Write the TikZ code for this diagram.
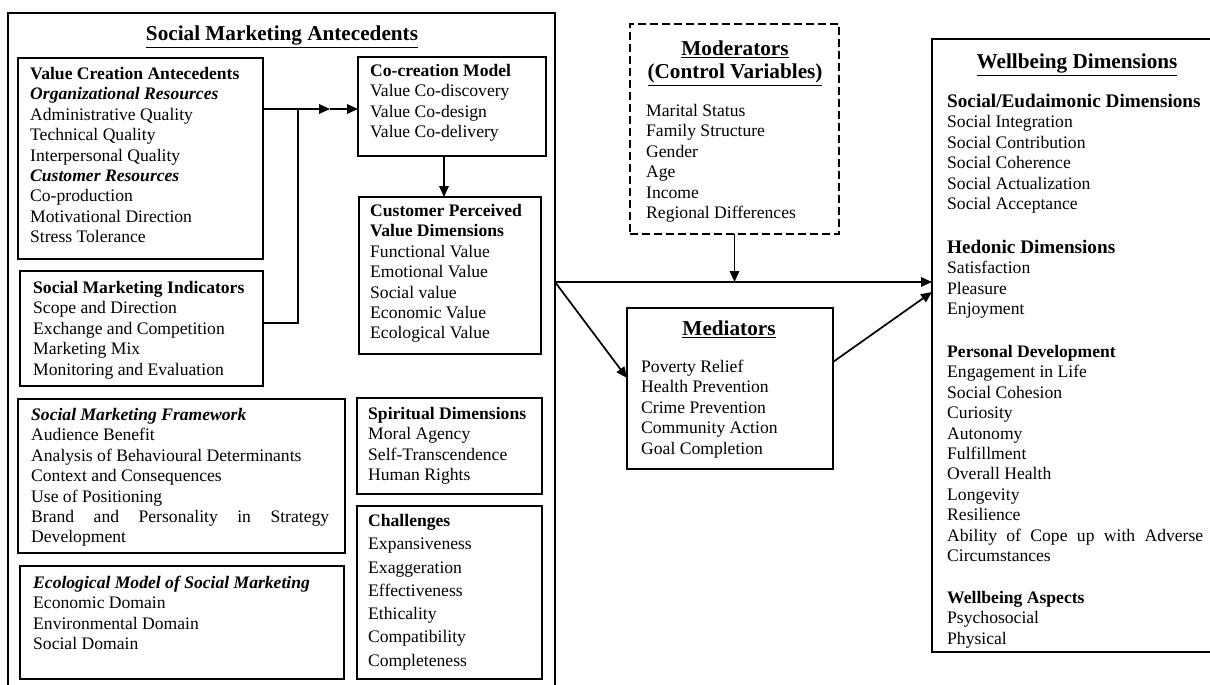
\documentclass[tikz,border=0pt]{standalone}
\usepackage{fontspec}
\setmainfont{Liberation Serif}
\usetikzlibrary{arrows.meta}
\newcommand\bodyfs{\fontsize{17.6pt}{20.4pt}\selectfont}
\newcommand\widefs{\fontsize{17.6pt}{23.3pt}\selectfont}
\newcommand\headfs{\fontsize{19.2pt}{20.4pt}\selectfont\bfseries}
\newcommand\titlefs{\fontsize{21.2pt}{23pt}\selectfont\bfseries}
\newcommand\bi[1]{\textbf{\textit{#1}}}

\begin{document}
\begin{tikzpicture}[x=1pt,y=-1pt,
  frame/.style={draw, line width=1.7pt, anchor=north west, inner sep=0pt, outer sep=0pt},
  bigframe/.style={frame, line width=2.5pt},
  txt/.style={anchor=north west, align=left, inner sep=0pt, font=\bodyfs},
  ttl/.style={anchor=north, align=center, inner sep=0pt, font=\titlefs},
  link/.style={line width=1.7pt},
  arr/.style={link, -{Triangle[length=11pt,width=9.5pt]}}]

\useasboundingbox (0,0) rectangle (1210,685);
\fill[white] (0,0) rectangle (1210,685);
\clip (0,0) rectangle (1210,685);

% ---- Social marketing antecedents (outer frame) ----
\node[bigframe, minimum width=547pt, minimum height=690pt] (sma) at (8,13) {};
\node[ttl] (smat) at (282,26) {\underline{Social Marketing Antecedents}};

\node[frame, minimum width=245pt, minimum height=201pt] (vc) at (18,58) {};
\node[txt] (vct) at (30,67) {\textbf{Value Creation Antecedents}\\
  \bi{Organizational Resources}\\ Administrative Quality\\ Technical Quality\\
  Interpersonal Quality\\ \bi{Customer Resources}\\ Co-production\\
  Motivational Direction\\ Stress Tolerance};

\node[frame, minimum width=243pt, minimum height=115pt] (smi) at (20,271) {};
\node[txt] (smit) at (33,281) {\textbf{Social Marketing Indicators}\\
  Scope and Direction\\ Exchange and Competition\\ Marketing Mix\\
  Monitoring and Evaluation};

\node[frame, minimum width=327pt, minimum height=154pt] (smf) at (18,399) {};
\node[txt] (smft) at (31,408) {\bi{Social Marketing Framework}\\
  Audience Benefit\\ Analysis of Behavioural Determinants\\
  Context and Consequences\\ Use of Positioning\\
  \makebox[298pt][s]{Brand and Personality in Strategy}\\ Development};

\node[frame, minimum width=324pt, minimum height=113pt] (eco) at (20,566) {};
\node[txt] (ecot) at (33,576) {\bi{Ecological Model of Social Marketing}\\
  Economic Domain\\ Environmental Domain\\ Social Domain};

\node[frame, minimum width=188pt, minimum height=99pt] (cc) at (358,57) {};
\node[txt] (cct) at (370,64) {\textbf{Co-creation Model}\\ Value Co-discovery\\
  Value Co-design\\ Value Co-delivery};

\node[frame, minimum width=182pt, minimum height=157pt] (cpv) at (359,197) {};
\node[txt] (cpvt) at (370,204) {\textbf{Customer Perceived}\\ \textbf{Value Dimensions}\\
  Functional Value\\ Emotional Value\\ Social value\\ Economic Value\\ Ecological Value};

\node[frame, minimum width=185pt, minimum height=96pt] (spi) at (357,398) {};
\node[txt] (spit) at (368,407) {\textbf{Spiritual Dimensions}\\ Moral Agency\\
  Self-Transcendence\\ Human Rights};

\node[frame, minimum width=185pt, minimum height=173pt] (chl) at (357,506) {};
\node[txt, font=\widefs] (chlt) at (368,514) {\textbf{Challenges}\\ Expansiveness\\
  Exaggeration\\ Effectiveness\\ Ethicality\\ Compatibility\\ Completeness};

% ---- moderators ----
\node[frame, line width=2pt, dash pattern=on 8pt off 4pt,
  minimum width=209pt, minimum height=210pt] (mod) at (630,24) {};
\node[ttl] (modt) at (735,41) {\underline{Moderators}\\ \underline{(Control Variables)}};
\node[txt] (modb) at (646,104) {Marital Status\\ Family Structure\\ Gender\\ Age\\
  Income\\ Regional Differences};

% ---- mediators ----
\node[frame, line width=2pt, minimum width=206pt, minimum height=161pt] (med) at (627,308) {};
\node[ttl] (medt) at (729,321) {\underline{Mediators}};
\node[txt] (medb) at (641,360) {Poverty Relief\\ Health Prevention\\ Crime Prevention\\
  Community Action\\ Goal Completion};

% ---- wellbeing dimensions ----
\node[bigframe, minimum width=290pt, minimum height=613pt] (wb) at (932,39) {};
\node[ttl] (wbt) at (1077,54) {\underline{Wellbeing Dimensions}};
\node[txt] (wb1) at (947,94) {{\headfs Social/Eudaimonic Dimensions}\\ Social Integration\\
  Social Contribution\\ Social Coherence\\ Social Actualization\\ Social Acceptance};
\node[txt] (wb2) at (947,240) {{\headfs Hedonic Dimensions}\\ Satisfaction\\ Pleasure\\ Enjoyment};
\node[txt] (wb3) at (947,345) {\textbf{Personal Development}\\ Engagement in Life\\
  Social Cohesion\\ Curiosity\\ Autonomy\\ Fulfillment\\ Overall Health\\ Longevity\\
  Resilience\\ \makebox[256pt][s]{Ability of Cope up with Adverse}\\ Circumstances};
\node[txt] (wb4) at (947,591) {\textbf{Wellbeing Aspects}\\ Psychosocial\\ Physical};

% ---- connectors ----
\coordinate (j1) at (298,109);
\coordinate (j2) at (298,323);
\coordinate (m1) at (330,109);
\draw[link] (vc.east |- j1) -- (j1) -- (j2) -- (smi.east |- j2);
\draw[arr] (j1) -- (m1);
\draw[arr] (m1) -- (cc.west |- j1);

\coordinate (d1) at (444,0);
\draw[arr] (cc.south -| d1) -- (cpv.north -| d1);

\coordinate (hy) at (0,282);
\coordinate (miy) at (0,378);
\coordinate (moy) at (0,362);
\coordinate (wiy) at (0,292);
\draw[arr] (sma.east |- hy) -- (wb.west |- hy);
\draw[arr] (sma.east |- hy) -- (med.west |- miy);
\draw[arr] (med.east |- moy) -- (wb.west |- wiy);
\draw[arr] (mod.south) -- (mod.south |- hy);

\end{tikzpicture}
\end{document}
